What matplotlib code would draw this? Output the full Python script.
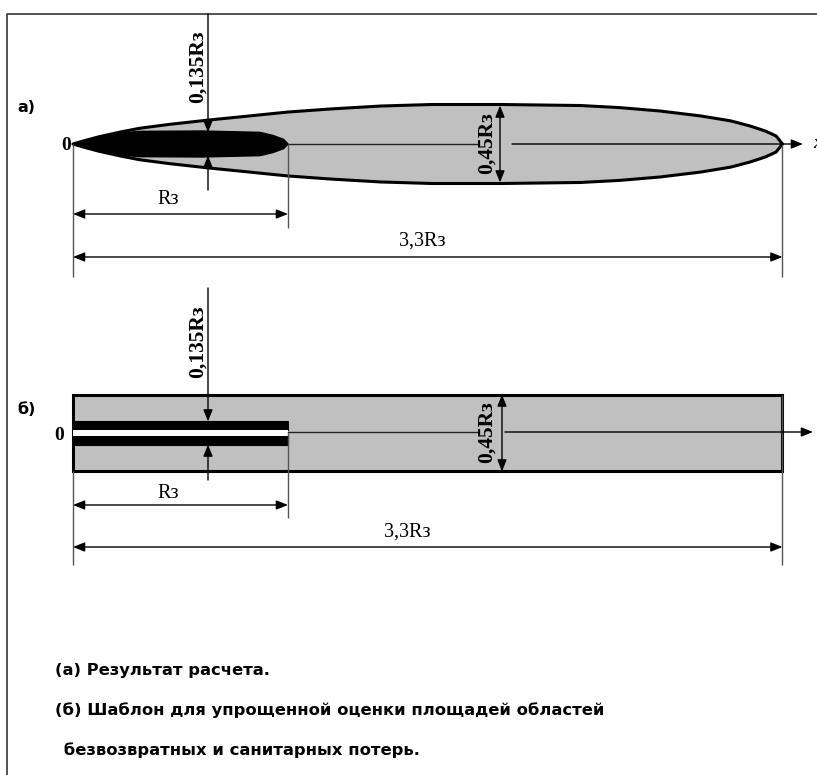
import matplotlib
matplotlib.use('Agg')
import matplotlib.pyplot as plt
import numpy as np

# zone outline from the calculation, x along the axis and half-width, both in units of Rз
envelope_x = [0, 0.06, 0.12, 0.22, 0.31, 0.45, 0.63, 0.82, 1.0, 1.2, 1.43, 1.67,
              1.99, 2.36, 2.54, 2.73, 2.92, 3.06, 3.15, 3.22, 3.27, 3.3]
envelope_h = [0, 0.022, 0.042, 0.07, 0.092, 0.115, 0.14, 0.164, 0.187, 0.205, 0.222, 0.231,
              0.231, 0.225, 0.213, 0.193, 0.164, 0.135, 0.105, 0.076, 0.047, 0]
core_x = [0, 0.06, 0.12, 0.22, 0.31, 0.6, 0.87, 0.93, 0.98, 1.0]
core_h = [0, 0.022, 0.042, 0.064, 0.074, 0.076, 0.068, 0.05, 0.027, 0]

# template sizes (Rз)
r_core = 1.0
r_total = 3.3
w_total = 0.45
w_core = 0.135
core_gap = 0.03

lbl_core = 'Rз'
lbl_total = '3,3Rз'
lbl_w_total = '0,45Rз'
lbl_w_core = '0,135Rз'
captions = ['(а) Результат расчета.',
            '(б) Шаблон для упрощенной оценки площадей областей',
            ' безвозвратных и санитарных потерь.']

GRAY = '#c0c0c0'
LINE = '#222222'
X0, SX, SY = 73, 215, 171          # origin and pixels per Rз
CY = {'a': 144, 'b': 433}          # axis line of each panel
HEAD = '-|>,head_length=0.7,head_width=0.28'


def px(x):
    return X0 + SX * np.asarray(x, dtype=float)


def py(y, panel):
    return CY[panel] - SY * np.asarray(y, dtype=float)


def arrow(ax, p1, p2, style=HEAD):
    ax.annotate('', xy=p2, xytext=p1,
                arrowprops=dict(arrowstyle=style, color='black', lw=1.0,
                                shrinkA=0, shrinkB=0, mutation_scale=10))


def dim_arrow(ax, p1, p2):
    arrow(ax, p1, p2, '<|-|>,head_length=0.7,head_width=0.28')


def vline(ax, x, y1, y2, color='#555555', lw=1.0):
    ax.plot([x, x], [y1, y2], color=color, lw=lw, solid_capstyle='butt')


fig = plt.figure(figsize=(8.17, 7.75), dpi=100)
ax = fig.add_axes([0, 0, 1, 1])
ax.set_xlim(0, 817)
ax.set_ylim(775, 0)
ax.axis('off')

serif = 'Liberation Serif'

# frame
ax.plot([7, 7, 817], [775, 14, 14], color='#444444', lw=1.3)

# ---------- panel a ----------
ex = px(envelope_x)
eh = np.asarray(envelope_h)
ax.fill(np.concatenate([ex, ex[::-1]]),
        np.concatenate([py(eh, 'a'), py(-eh[::-1], 'a')]),
        facecolor=GRAY, edgecolor='black', lw=2.2, joinstyle='round')
cx = px(core_x)
ch = np.asarray(core_h)
ax.fill(np.concatenate([cx, cx[::-1]]),
        np.concatenate([py(ch, 'a'), py(-ch[::-1], 'a')]),
        facecolor='black', edgecolor='black', lw=1)

# axis x with a break for the width label
ax.plot([px(r_core), 477], [CY['a']] * 2, color=LINE, lw=1.0)
arrow(ax, (512, CY['a']), (803, CY['a']))
ax.text(813, CY['a'], 'x', family=serif, style='italic', fontweight='bold', fontsize=14,
        ha='left', va='center')

ax.text(66, CY['a'] + 1, '0', family=serif, fontweight='bold', fontsize=14, ha='center', va='center')
ax.text(26, 107, 'а)', fontweight='bold', fontsize=11.5, ha='center', va='center')

# width of the whole zone
dim_arrow(ax, (500, py(w_total / 2, 'a')), (500, py(-w_total / 2, 'a')))
ax.text(487, CY['a'] - 1, lbl_w_total, family=serif, fontweight='bold', fontsize=15.5,
        rotation=90, ha='center', va='center')

# width of the core
arrow(ax, (208, 14), (208, py(w_core / 2, 'a')))
arrow(ax, (208, 190), (208, py(-w_core / 2, 'a')))
ax.text(198, 67, lbl_w_core, family=serif, fontweight='bold', fontsize=15.5,
        rotation=90, ha='center', va='center')

# lengths
vline(ax, px(0), CY['a'], 277)
vline(ax, px(r_core), CY['a'], 228)
vline(ax, px(r_total), CY['a'], 277)
dim_arrow(ax, (px(0), 214), (px(r_core), 214))
ax.text(168, 200, lbl_core, family=serif, fontsize=14.5, ha='center', va='center')
dim_arrow(ax, (px(0), 257), (px(r_total), 257))
ax.text(422, 241, lbl_total, family=serif, fontsize=14.5, ha='center', va='center')

# ---------- panel b ----------
ax.fill([px(0), px(r_total), px(r_total), px(0)],
        [py(w_total / 2, 'b'), py(w_total / 2, 'b'), py(-w_total / 2, 'b'), py(-w_total / 2, 'b')],
        facecolor=GRAY, edgecolor='black', lw=2.2)
for sgn in (1, -1):
    ax.fill([px(0), px(r_core), px(r_core), px(0)],
            [py(sgn * w_core / 2, 'b'), py(sgn * w_core / 2, 'b'),
             py(sgn * core_gap / 2, 'b'), py(sgn * core_gap / 2, 'b')],
            facecolor='black', edgecolor='black', lw=0.8)
ax.fill([px(0), px(r_core), px(r_core), px(0)],
        [py(core_gap / 2, 'b'), py(core_gap / 2, 'b'), py(-core_gap / 2, 'b'), py(-core_gap / 2, 'b')],
        facecolor='white', edgecolor='none')

ax.plot([px(r_core), 477], [CY['b'] - 1] * 2, color=LINE, lw=1.0)
arrow(ax, (505, CY['b'] - 1), (813, CY['b'] - 1))

ax.text(59, 436, '0', family=serif, fontweight='bold', fontsize=14, ha='center', va='center')
ax.text(27, 409, 'б)', fontweight='bold', fontsize=11.5, ha='center', va='center')

dim_arrow(ax, (502, py(w_total / 2, 'b')), (502, py(-w_total / 2, 'b')))
ax.text(487, CY['b'] - 1, lbl_w_total, family=serif, fontweight='bold', fontsize=15.5,
        rotation=90, ha='center', va='center')

arrow(ax, (208, 288), (208, py(w_core / 2, 'b')))
arrow(ax, (208, 480), (208, py(-w_core / 2, 'b')))
ax.text(198, 342, lbl_w_core, family=serif, fontweight='bold', fontsize=15.5,
        rotation=90, ha='center', va='center')

vline(ax, px(0), py(-w_total / 2, 'b'), 565)
vline(ax, px(r_core), CY['b'], 518)
vline(ax, px(r_total), py(w_total / 2, 'b'), 565)
dim_arrow(ax, (px(0), 505), (px(r_core), 505))
ax.text(168, 494, lbl_core, family=serif, fontsize=14.5, ha='center', va='center')
dim_arrow(ax, (px(0), 547), (px(r_total), 547))
ax.text(407, 532, lbl_total, family=serif, fontsize=14.5, ha='center', va='center')

# captions
for txt, x, y in zip(captions, [55, 55, 58], [671, 710, 750]):
    ax.text(x, y, txt, fontweight='bold', fontsize=11.8, ha='left', va='center')

fig.savefig('out.png', dpi=100)
